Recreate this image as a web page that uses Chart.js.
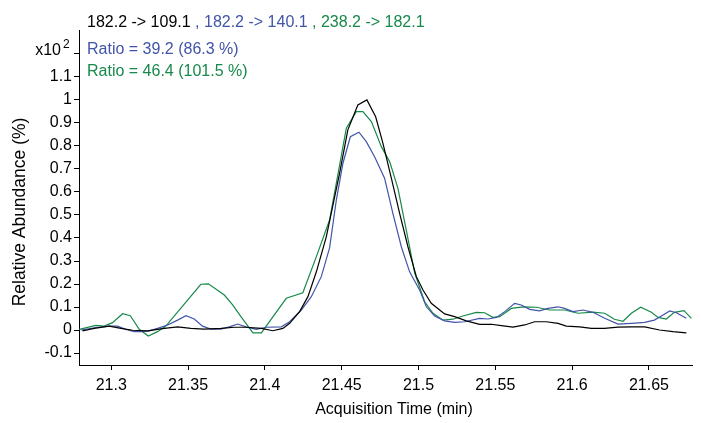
<!DOCTYPE html>
<html>
<head>
<meta charset="utf-8">
<script src="https://cdn.jsdelivr.net/npm/chart.js@4.4.1/dist/chart.umd.min.js"></script>
<style>
  html, body { margin: 0; padding: 0; background: #fff; }
  #wrap { width: 701px; height: 423px; position: relative; }
</style>
</head>
<body>
<div id="wrap"><canvas id="eic"></canvas></div>
<script>
// transitions and ratio labels
const transitions = ['182.2 -> 109.1', '182.2 -> 140.1', '238.2 -> 182.1'];
const ratioLabels = ['Ratio = 39.2 (86.3 %)', 'Ratio = 46.4 (101.5 %)'];
const traceColors = ['#000000', '#4254a8', '#17894a'];

// tick values
const xTicks = [21.3, 21.35, 21.4, 21.45, 21.5, 21.55, 21.6, 21.65];
const yTicks = [-0.1, 0, 0.1, 0.2, 0.3, 0.4, 0.5, 0.6, 0.7, 0.8, 0.9, 1, 1.1, 1.2];

// 182.2 -> 109.1 (quantifier)
const blackTime = [21.2813, 21.2889, 21.2987, 21.3063, 21.3139, 21.3236, 21.3345, 21.3432, 21.3518, 21.3605,
  21.3714, 21.3801, 21.3876, 21.3977, 21.4052, 21.4117, 21.4161, 21.4226, 21.428, 21.4335,
  21.44, 21.4486, 21.454, 21.4605, 21.4664, 21.4721, 21.4768, 21.4823, 21.4877, 21.4931,
  21.4986, 21.5029, 21.5083, 21.517, 21.5235, 21.5311, 21.5398, 21.5474, 21.5539, 21.5615,
  21.5691, 21.5756, 21.5832, 21.5908, 21.5962, 21.6049, 21.6125, 21.621, 21.6298, 21.6385,
  21.6472, 21.6569, 21.6656, 21.6743];
const blackAbund = [-0.004, 0.007, 0.017, 0.007, -0.001, -0.004, 0.007, 0.014, 0.007, 0.004,
  0.007, 0.012, 0.012, 0.007, -0.003, 0.007, 0.029, 0.080, 0.145, 0.253,
  0.406, 0.681, 0.870, 0.978, 1.0, 0.927, 0.812, 0.660, 0.507, 0.362,
  0.232, 0.174, 0.116, 0.070, 0.058, 0.040, 0.025, 0.025, 0.019, 0.013,
  0.022, 0.036, 0.036, 0.029, 0.017, 0.014, 0.007, 0.007, 0.013, 0.014,
  0.014, 0.000, -0.007, -0.012];

// 182.2 -> 140.1
const blueTime = [21.2802, 21.2911, 21.2987, 21.3041, 21.3095, 21.315, 21.3204, 21.3247, 21.3301, 21.3367,
  21.3432, 21.3486, 21.354, 21.3594, 21.3648, 21.3714, 21.3768, 21.3822, 21.3876, 21.3944,
  21.4009, 21.4107, 21.4161, 21.4237, 21.4302, 21.4367, 21.4421, 21.4465, 21.4508, 21.4556,
  21.4612, 21.466, 21.4714, 21.4779, 21.4833, 21.4888, 21.4942, 21.5007, 21.5051, 21.5105,
  21.517, 21.5235, 21.53, 21.5398, 21.5452, 21.5507, 21.5561, 21.5626, 21.5669, 21.5723,
  21.5788, 21.5842, 21.5908, 21.5951, 21.6005, 21.607, 21.6135, 21.6212, 21.6298, 21.6385,
  21.6472, 21.6535, 21.6581, 21.6635, 21.6678, 21.6743];
const blueAbund = [0.000, 0.012, 0.017, 0.017, 0.003, -0.007, -0.007, -0.004, 0.007, 0.022,
  0.043, 0.062, 0.048, 0.017, 0.004, 0.004, 0.014, 0.026, 0.014, 0.003,
  0.012, 0.014, 0.036, 0.087, 0.145, 0.232, 0.357, 0.565, 0.725, 0.840,
  0.860, 0.819, 0.753, 0.660, 0.507, 0.362, 0.253, 0.174, 0.101, 0.061,
  0.040, 0.033, 0.036, 0.051, 0.048, 0.055, 0.080, 0.116, 0.109, 0.090,
  0.083, 0.094, 0.101, 0.094, 0.080, 0.087, 0.077, 0.051, 0.026, 0.029,
  0.033, 0.043, 0.061, 0.083, 0.075, 0.051];

// 238.2 -> 182.1
const greenTime = [21.2792, 21.290, 21.2954, 21.3008, 21.3074, 21.3124, 21.3182, 21.3241, 21.3301, 21.3355,
  21.3583, 21.3632, 21.3736, 21.379, 21.3844, 21.3922, 21.3977, 21.4139, 21.4247, 21.4335,
  21.4421, 21.453, 21.4595, 21.4638, 21.4693, 21.4758, 21.4812, 21.4866, 21.492, 21.4975,
  21.504, 21.5094, 21.5159, 21.5224, 21.5289, 21.5376, 21.543, 21.5484, 21.5528, 21.5604,
  21.568, 21.5767, 21.5853, 21.5951, 21.6038, 21.6135, 21.6212, 21.6275, 21.6331, 21.6385,
  21.6446, 21.6516, 21.6559, 21.6613, 21.6665, 21.6728, 21.6776];
const greenAbund = [0.003, 0.020, 0.017, 0.032, 0.071, 0.062, 0.003, -0.026, -0.007, 0.017,
  0.199, 0.201, 0.152, 0.109, 0.058, -0.012, -0.012, 0.138, 0.162, 0.319,
  0.478, 0.877, 0.949, 0.949, 0.906, 0.797, 0.732, 0.616, 0.435, 0.247,
  0.123, 0.073, 0.043, 0.047, 0.061, 0.077, 0.075, 0.055, 0.058, 0.094,
  0.101, 0.099, 0.087, 0.087, 0.073, 0.078, 0.073, 0.047, 0.038, 0.073,
  0.099, 0.077, 0.055, 0.048, 0.077, 0.084, 0.051];

const FONT = '"Liberation Sans", Arial, sans-serif';

function toPoints(times, values) {
  return times.map((t, i) => ({ x: t, y: values[i] }));
}

function trace(label, times, values, color) {
  return {
    label: label,
    data: toPoints(times, values),
    borderColor: color,
    borderWidth: 1.2,
    pointRadius: 0,
    tension: 0,
    fill: false
  };
}

// header lines, multiplier and axis titles
const textPlugin = {
  id: 'eicText',
  afterDraw(chart) {
    const ctx = chart.ctx;
    ctx.save();
    ctx.font = '16px ' + FONT;
    ctx.textBaseline = 'alphabetic';
    ctx.textAlign = 'left';

    let x = 87;
    transitions.forEach((t, i) => {
      const s = (i === 0 ? '' : ' , ') + t;
      ctx.fillStyle = traceColors[i];
      ctx.fillText(s, x, 27);
      x += ctx.measureText(s).width;
    });

    ctx.fillStyle = traceColors[1];
    ctx.fillText(ratioLabels[0], 87, 54);
    ctx.fillStyle = traceColors[2];
    ctx.fillText(ratioLabels[1], 87, 76);

    // x10^2 where the 1.2 label would sit
    ctx.fillStyle = '#000';
    ctx.textAlign = 'right';
    ctx.fillText('x10', 61, 55);
    ctx.textAlign = 'left';
    ctx.font = '12px ' + FONT;
    ctx.fillText('2', 63, 48);

    ctx.font = '16px ' + FONT;
    ctx.textAlign = 'center';
    ctx.textBaseline = 'middle';
    ctx.fillText('Acquisition Time (min)', 394, 410);

    ctx.font = '17.5px ' + FONT;
    ctx.translate(20, 212);
    ctx.rotate(-Math.PI / 2);
    ctx.fillText('Relative Abundance (%)', 0, 0);
    ctx.restore();
  }
};

new Chart(document.getElementById('eic'), {
  type: 'line',
  data: {
    datasets: [
      trace(transitions[0], blackTime, blackAbund, traceColors[0]),
      trace(transitions[1], blueTime, blueAbund, traceColors[1]),
      trace(transitions[2], greenTime, greenAbund, traceColors[2])
    ]
  },
  options: {
    responsive: true,
    maintainAspectRatio: false,
    animation: false,
    layout: { padding: { top: 30, right: 9, left: 0, bottom: 0 } },
    plugins: {
      legend: { display: false },
      tooltip: { enabled: false }
    },
    scales: {
      x: {
        type: 'linear',
        min: 21.279,
        max: 21.678,
        afterBuildTicks: (scale) => { scale.ticks = xTicks.map(v => ({ value: v })); },
        afterFit: (scale) => { scale.height = 58; },
        ticks: {
          color: '#000',
          font: { size: 16, family: FONT },
          padding: 6,
          maxRotation: 0,
          callback: (v) => String(Math.round(v * 100) / 100)
        },
        grid: { drawOnChartArea: false, drawTicks: true, tickLength: 5, color: '#000', lineWidth: 1 },
        border: { display: true, color: '#000', width: 1 }
      },
      y: {
        type: 'linear',
        min: -0.152,
        max: 1.304,
        afterBuildTicks: (scale) => { scale.ticks = yTicks.map(v => ({ value: v })); },
        afterFit: (scale) => { scale.width = 79; },
        ticks: {
          color: '#000',
          font: { size: 16, family: FONT },
          padding: 2,
          callback: (v) => {
            const r = Math.round(v * 10) / 10;
            return r === 1.2 ? '' : String(r);
          }
        },
        grid: { drawOnChartArea: false, drawTicks: true, tickLength: 5, color: '#000', lineWidth: 1 },
        border: { display: true, color: '#000', width: 1 }
      }
    }
  },
  plugins: [textPlugin]
});
</script>
</body>
</html>
